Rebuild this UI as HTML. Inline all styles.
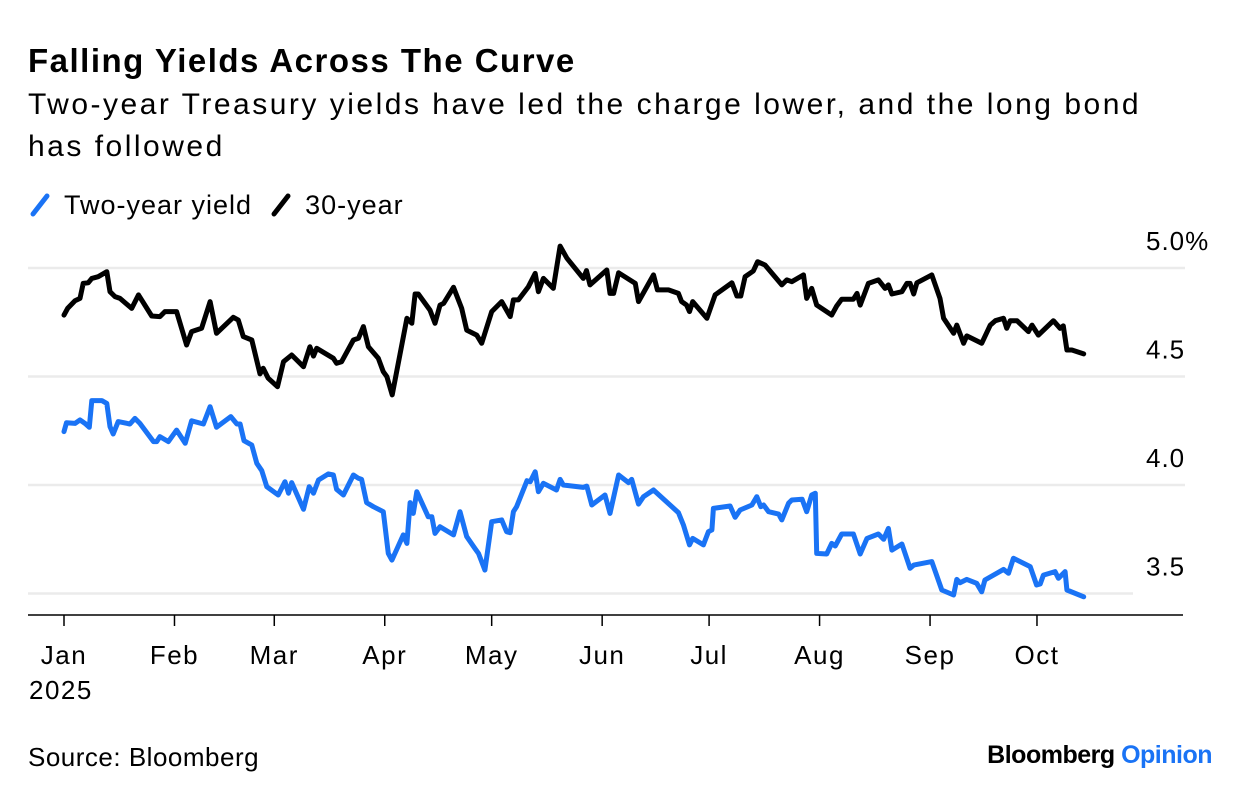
<!DOCTYPE html>
<html><head><meta charset="utf-8">
<style>
html,body{margin:0;padding:0;background:#fff;}
body{width:1240px;height:800px;position:relative;overflow:hidden;font-family:"Liberation Sans",sans-serif;color:#000;}
.t{position:absolute;white-space:nowrap;}
</style></head>
<body>
<div class="t" style="left:28px;top:42px;font-size:33px;font-weight:bold;letter-spacing:1.5px;">Falling Yields Across The Curve</div>
<div class="t" style="left:28px;top:84px;font-size:30px;letter-spacing:2.5px;line-height:42px;white-space:normal;width:1150px;">Two-year Treasury yields have led the charge lower, and the long bond has followed</div>
<div style="position:absolute;left:28px;top:190px;font-size:27px;letter-spacing:1px;">
  <span style="display:inline-block;"><svg width="28" height="26" style="vertical-align:-4px"><line x1="5" y1="22" x2="19" y2="4" stroke="#1a73f5" stroke-width="5" stroke-linecap="round"/></svg> Two-year yield</span>
  <span style="display:inline-block;margin-left:8px;"><svg width="28" height="26" style="vertical-align:-4px"><line x1="5" y1="22" x2="19" y2="4" stroke="#000" stroke-width="5" stroke-linecap="round"/></svg> 30-year</span>
</div>
<svg id="chart" width="1240" height="800" style="position:absolute;left:0;top:0;"></svg>
<div class="t" style="left:28px;top:742px;font-size:26px;letter-spacing:0.5px;">Source: Bloomberg</div>
<div class="t" style="right:28px;top:741px;font-size:25px;font-weight:bold;letter-spacing:-0.5px;">Bloomberg <span style="color:#1a73f5;">Opinion</span></div>
<script>
const yTicks=[5.0,4.5,4.0,3.5];
const yTickLabels=["5.0","4.5","4.0","3.5"];
const monthDays=[0,31,59,90,120,151,181,212,243,273];
const monthLabels=["Jan","Feb","Mar","Apr","May","Jun","Jul","Aug","Sep","Oct"];
const longDays=[0,1,3.1,4.5,5.4,6.8,7.8,9.6,12,12.9,14.3,15.7,19,20.9,24.6,26.9,28.3,31.6,34.4,35.8,38.6,41,42.8,47.5,48.9,50.3,52.7,55,55.9,57.3,59.9,61.6,63.9,67.2,69,70,70.9,75.6,76.5,77.9,81.2,82.6,84,85.4,88.2,89.6,90.6,92.1,96.2,97.6,98.5,99.4,102.7,104.1,105.5,106.5,109.3,111.6,113,115.8,117.2,120,122.8,125.2,126.1,127.5,130.3,132.2,133.1,134.5,137.3,139.2,141.1,145.7,146.6,147.6,152.3,153.2,154.2,155.6,160.3,161.2,165.4,166.5,169.6,172.4,173.3,174.7,175.5,176.4,180.4,182.7,187.4,188.8,189.9,191.1,193.4,194.6,196.7,201.4,202.8,204.2,207.5,208.4,209.8,211.2,215.4,216.8,218.2,221.5,222.5,223.4,225.7,228.5,230.4,231.3,232.3,235.1,236.5,237.4,238.4,239.3,243.5,245.8,246.8,249.6,250.5,252.4,253.3,257.5,259.9,261.3,263.6,264.5,265.5,267.4,270.6,271.6,273.4,277.6,279.5,280.4,281.4,282.8,286.1];
const longYield=[4.783,4.814,4.849,4.860,4.929,4.932,4.952,4.960,4.983,4.891,4.868,4.860,4.814,4.876,4.779,4.776,4.799,4.799,4.645,4.707,4.722,4.845,4.699,4.773,4.760,4.684,4.668,4.512,4.538,4.492,4.453,4.568,4.599,4.545,4.637,4.594,4.630,4.584,4.561,4.568,4.668,4.676,4.730,4.637,4.584,4.522,4.499,4.415,4.768,4.745,4.880,4.880,4.806,4.745,4.829,4.837,4.911,4.814,4.714,4.691,4.653,4.799,4.845,4.776,4.853,4.853,4.914,4.975,4.891,4.952,4.906,5.101,5.045,4.952,4.988,4.922,4.991,4.883,4.883,4.978,4.929,4.845,4.968,4.899,4.899,4.883,4.845,4.829,4.799,4.845,4.768,4.876,4.932,4.871,4.871,4.960,4.986,5.029,5.014,4.922,4.945,4.937,4.968,4.860,4.906,4.829,4.783,4.825,4.856,4.856,4.883,4.829,4.929,4.945,4.906,4.922,4.880,4.891,4.929,4.929,4.880,4.932,4.968,4.860,4.768,4.699,4.737,4.653,4.687,4.653,4.737,4.757,4.768,4.722,4.757,4.757,4.707,4.737,4.691,4.757,4.722,4.733,4.622,4.622,4.604];
const twoDays=[0,0.7,3.1,4.5,5.9,7.1,7.8,10.6,12,12.9,13.8,15.2,18.5,19.9,21.3,25.1,26,26.9,29.3,31.6,34,35.8,39.1,41,42.8,46.8,48.5,49.4,50.5,52.7,54.1,55.5,56.9,60.1,62,63,63.9,67.2,68.8,70,71.4,74.2,75.6,76.5,78.4,81.2,82.6,83.5,84.9,86.8,89.6,91,92,95.2,96.2,97.1,98,99,102.2,103.2,104.1,105.5,109.3,111.1,113,115.3,116.3,118.1,120,122.8,124.2,125.2,126.1,127,129.9,130.8,132.2,133.1,134.5,138.2,139.2,140.1,145.7,146.7,148.1,151.8,153.2,155.6,158.4,159.3,161.2,162.6,165.4,172.4,173.8,175.5,176.4,179.4,180.8,181.8,182.2,186.9,188.3,189.7,193,194.4,195.5,196.3,197.7,200.5,201.4,203.3,204.2,207.1,208.4,209.8,210.8,211.2,214,215.4,216.4,218.2,221.5,223.4,225.3,228.5,230,231.3,232.3,235.1,237.4,238.4,243.5,246.3,249.6,250.5,251.4,253.3,256.1,257.5,258.4,263.6,265,266.4,271.1,272.9,273.9,274.8,278.1,279,280.9,281.4,286.1];
const twoYield=[4.246,4.287,4.284,4.300,4.284,4.266,4.389,4.389,4.376,4.269,4.235,4.292,4.281,4.307,4.284,4.200,4.200,4.223,4.200,4.253,4.192,4.296,4.281,4.361,4.266,4.315,4.281,4.281,4.204,4.184,4.100,4.066,3.992,3.954,4.015,3.962,4.011,3.888,3.992,3.962,4.023,4.051,4.046,3.980,3.954,4.046,4.031,4.026,3.919,3.900,3.877,3.685,3.654,3.770,3.731,3.919,3.869,3.969,3.854,3.854,3.777,3.808,3.770,3.877,3.762,3.708,3.685,3.608,3.831,3.839,3.785,3.780,3.877,3.900,4.020,4.015,4.061,3.969,4.008,3.977,4.026,4.000,3.989,3.995,3.908,3.954,3.869,4.046,4.011,4.026,3.912,3.946,3.977,3.873,3.816,3.724,3.754,3.724,3.785,3.793,3.892,3.903,3.851,3.885,3.908,3.946,3.900,3.908,3.877,3.866,3.839,3.916,3.931,3.934,3.877,3.954,3.962,3.685,3.682,3.731,3.719,3.774,3.774,3.682,3.754,3.774,3.750,3.800,3.700,3.728,3.616,3.631,3.647,3.516,3.493,3.565,3.550,3.565,3.547,3.508,3.562,3.611,3.593,3.662,3.624,3.539,3.544,3.585,3.601,3.570,3.601,3.516,3.485];

const NS="http://www.w3.org/2000/svg";
const svg=document.getElementById('chart');
function xS(d){return 64+d*3.564;}
function yS(v){return 268+(5.0-v)*217;}
function mk(tag,attrs){const e=document.createElementNS(NS,tag);for(const k in attrs)e.setAttribute(k,attrs[k]);svg.appendChild(e);return e;}
const FONT='Liberation Sans, sans-serif';

yTicks.forEach((v,i)=>{
  const g=mk('line',{x1:28,x2:(i===yTicks.length-1?1133:1185),y1:yS(v),y2:yS(v),stroke:'#ebebeb','stroke-width':2.5});
  
  
  const t=mk('text',{x:1146,y:yS(v)-18,'font-size':26,'letter-spacing':1,'font-family':FONT,fill:'#000'});
  t.textContent=yTickLabels[i]+(i===0?'%':'');
  
  
});

const ax=mk('line',{x1:28,x2:1183,y1:615,y2:615,stroke:'#000','stroke-width':1.5});


monthDays.forEach((d,i)=>{
  const tk=mk('line',{x1:xS(d),x2:xS(d),y1:615,y2:626,stroke:'#000','stroke-width':1.5});
  
  
  const t=mk('text',{x:xS(d),y:664,'text-anchor':'middle','font-size':26,'letter-spacing':1.5,'font-family':FONT,fill:'#000'});
  t.textContent=monthLabels[i];
  
  
});
const yr=mk('text',{x:29,y:699,'font-size':26,'letter-spacing':1.5,'font-family':FONT,fill:'#000'});
yr.textContent='2025';



function line(days,vals,color,name){
  const d=days.map((x,i)=>(i?'L':'M')+xS(x).toFixed(1)+' '+yS(vals[i]).toFixed(1)).join(' ');
  const p=mk('path',{d:d,fill:'none',stroke:color,'stroke-width':5,'stroke-linejoin':'round','stroke-linecap':'round'});
  
  
}
line(longDays,longYield,'#000','thirty-year-yield-line');
line(twoDays,twoYield,'#1a73f5','two-year-yield-line');
</script>
</body></html>
